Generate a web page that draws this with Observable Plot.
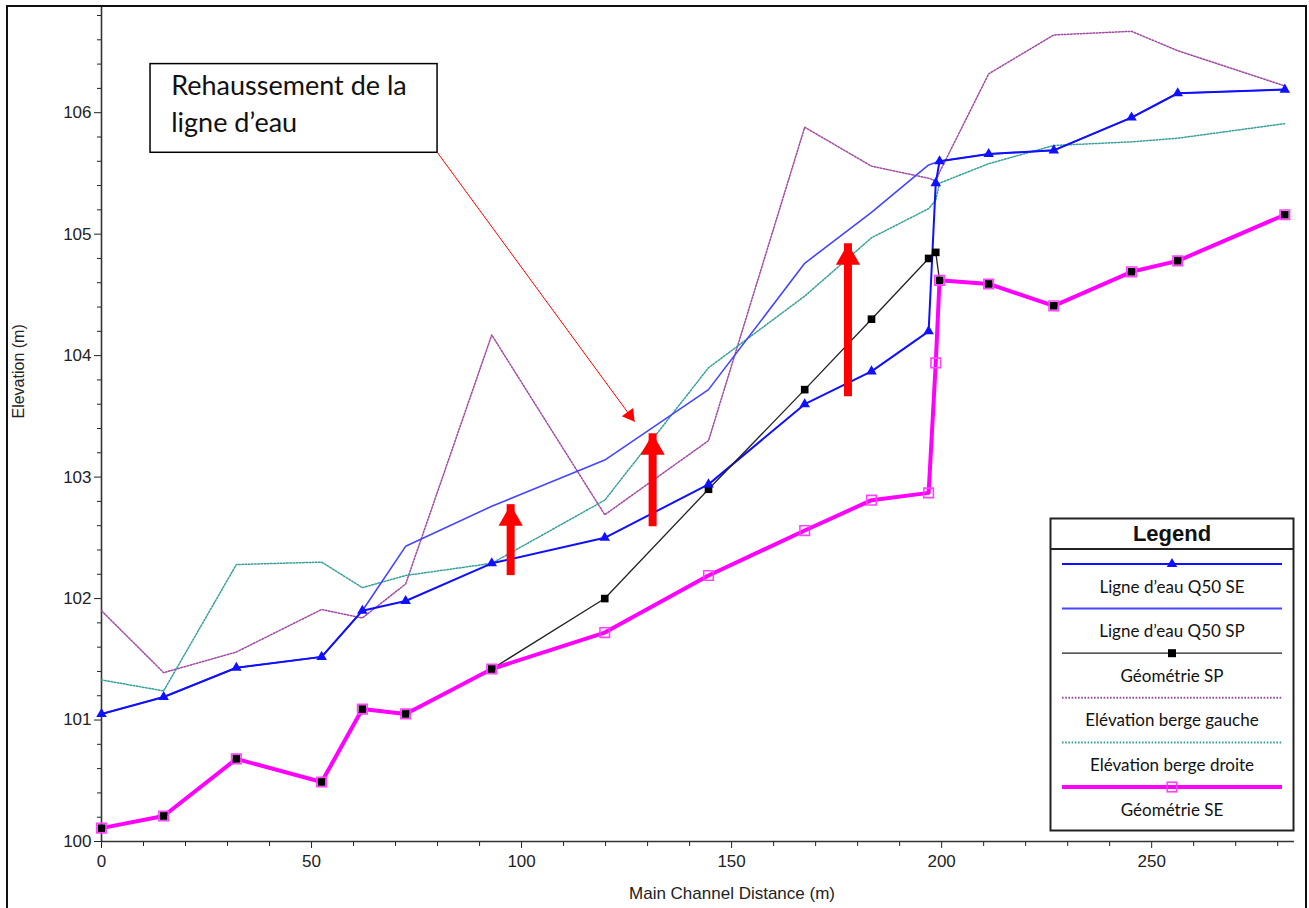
<!DOCTYPE html>
<html><head><meta charset="utf-8">
<script src="https://cdn.jsdelivr.net/npm/d3@7"></script>
<script src="https://cdn.jsdelivr.net/npm/@observablehq/plot@0.6"></script>
<style>
body{margin:0;background:#fff;}
#wrap{position:relative;width:1309px;height:908px;overflow:hidden;background:#fff;}
#frame{position:absolute;left:6px;top:5px;width:1301px;height:940px;border:2.5px solid #111;box-sizing:border-box;pointer-events:none;}
#chart{position:absolute;left:0;top:0;}
#legend{position:absolute;left:1049px;top:517px;}
</style></head>
<body><div id="wrap"><div id="chart"></div><svg id="legend" width="248" height="316"></svg><div id="frame"></div></div>
<script>
// ---- data ----
const dist   = [0, 14.8, 32.1, 52.4, 62.1, 72.4, 92.9, 119.8, 144.5, 167.4, 183.3, 196.9, 198.6, 199.5, 211.2, 226.7, 245.2, 256.2, 281.7];
const geomSE = [100.11, 100.21, 100.68, 100.49, 101.09, 101.05, 101.42, 101.72, 102.19, 102.56, 102.81, 102.87, 103.94, 104.62, 104.59, 104.41, 104.69, 104.78, 105.16];
const geomSP = [100.11, 100.21, 100.68, 100.49, 101.09, 101.05, 101.42, 102.00, 102.90, 103.72, 104.30, 104.80, 104.85, 104.62, 104.59, 104.41, 104.69, 104.78, 105.16];
const eauSE  = [101.05, 101.19, 101.43, 101.52, 101.90, 101.98, 102.29, 102.50, 102.94, 103.60, 103.87, 104.20, 105.42, 105.60, 105.66, 105.69, 105.96, 106.16, 106.19];
const eauSP  = [101.05, 101.19, 101.43, 101.52, 101.90, 102.43, 102.76, 103.14, 103.72, 104.76, 105.18, 105.57, 105.59, 105.60, 105.66, 105.69, 105.96, 106.16, 106.19];
const bergeG = [101.90, 101.39, 101.56, 101.91, 101.84, 102.12, 104.17, 102.69, 103.30, 105.88, 105.56, 105.46, 105.44, 105.51, 106.32, 106.64, 106.67, 106.51, 106.22];
const bergeD = [101.33, 101.24, 102.28, 102.30, 102.09, 102.19, 102.29, 102.81, 103.90, 104.49, 104.97, 105.21, 105.28, 105.42, 105.58, 105.73, 105.76, 105.79, 105.91];

const yMajor = [100, 101, 102, 103, 104, 105, 106];
const yMinor = [100.2,100.4,100.6,100.8,101.2,101.4,101.6,101.8,102.2,102.4,102.6,102.8,103.2,103.4,103.6,103.8,104.2,104.4,104.6,104.8,105.2,105.4,105.6,105.8,106.2,106.4,106.6,106.8];
const xMajor = [0, 50, 100, 150, 200, 250];
const xMinor = [10,20,30,40,60,70,80,90,110,120,130,140,160,170,180,190,210,220,230,240,260,270,280];

const legendLabels = ["Ligne d’eau Q50 SE", "Ligne d’eau Q50 SP", "Géométrie SP", "Elévation berge gauche", "Elévation berge droite", "Géométrie SE"];

// annotations (data coordinates)
const noteBox = [{x1: 11.67, x2: 80.0, y1: 105.67, y2: 106.40}];
const noteLines = [{x: 16.6, y: 106.148, text: "Rehaussement de la"}, {x: 16.6, y: 105.84, text: "ligne d’eau"}];
const pointer = [{x1: 80.0, y1: 105.67, x2: 126.9, y2: 103.456}];
const riseArrows = [{x: 97.4, y1: 102.337, y2: 102.773}, {x: 131.2, y1: 102.74, y2: 103.357}, {x: 177.7, y1: 103.81, y2: 104.922}];

const rows = dist.map((d, i) => ({d, geomSE: geomSE[i], geomSP: geomSP[i], eauSE: eauSE[i], eauSP: eauSP[i], bergeG: bergeG[i], bergeD: bergeD[i]}));

const C = {eauSE: "#1010ff", eauSP: "#4545ff", geomSP: "#222", bergeG: "#a248a2", bergeD: "#35a09a", geomSE: "#ff00ff"};
const DASH = "1.6,1.6";

const plot = Plot.plot({
  width: 1309, height: 908,
  marginLeft: 101, marginRight: 15, marginTop: 7, marginBottom: 67,
  x: {domain: [0, 284]},
  y: {domain: [100, 106.866]},
  style: {fontFamily: "'Liberation Sans', Arial, sans-serif", fontSize: "17px", background: "transparent", overflow: "visible"},
  marks: [
    Plot.axisY({ticks: yMajor, tickSize: 7, tickPadding: 3, tickFormat: d => d, label: null, color: "#222", fontSize: 17}),
    Plot.axisY({ticks: yMinor, tickSize: 4, tickFormat: () => "", label: null, color: "#222"}),
    Plot.axisX({ticks: xMajor, tickSize: 7, tickPadding: 6, tickFormat: d => d, label: null, color: "#222", fontSize: 17}),
    Plot.axisX({ticks: xMinor, tickSize: 5, tickFormat: () => "", label: null, color: "#222"}),
    Plot.ruleX([0], {stroke: "#333", strokeWidth: 1.6}),
    Plot.ruleY([100], {stroke: "#333", strokeWidth: 1.6}),
    Plot.text(["Elevation (m)"], {frameAnchor: "left", rotate: -90, dx: -83, dy: -6, fontSize: 16, fill: "#222"}),
    Plot.text(["Main Channel Distance (m)"], {frameAnchor: "bottom", dx: 34, dy: 57, fontSize: 17, fill: "#222"}),

    Plot.line(rows, {x: "d", y: "bergeG", stroke: C.bergeG, strokeWidth: 1.5, strokeDasharray: DASH}),
    Plot.line(rows, {x: "d", y: "bergeD", stroke: C.bergeD, strokeWidth: 1.5, strokeDasharray: DASH}),
    Plot.line(rows, {x: "d", y: "eauSP", stroke: C.eauSP, strokeWidth: 1.6}),
    Plot.line(rows, {x: "d", y: "eauSE", stroke: C.eauSE, strokeWidth: 2}),
    Plot.line(rows, {x: "d", y: "geomSP", stroke: C.geomSP, strokeWidth: 1.3}),
    Plot.line(rows, {x: "d", y: "geomSE", stroke: C.geomSE, strokeWidth: 4}),
    Plot.dot(rows, {x: "d", y: "geomSP", symbol: "square", r: 4.3, fill: "#000", stroke: "none"}),
    Plot.dot(rows, {x: "d", y: "geomSE", symbol: "square", r: 5.4, fill: "none", stroke: "#ff44ff", strokeWidth: 1.6}),
    Plot.dot(rows, {x: "d", y: "eauSE", symbol: "triangle", r: 3.9, fill: C.eauSE, stroke: "none"}),

    Plot.rect(noteBox, {x1: "x1", x2: "x2", y1: "y1", y2: "y2", fill: "#fff", stroke: "#000", strokeWidth: 1.5}),
    Plot.text(noteLines, {x: "x", y: "y", text: "text", textAnchor: "start", lineAnchor: "bottom", fontFamily: "Lato, 'Open Sans', sans-serif", fontSize: 27, fill: "#111"}),
    Plot.link(pointer, {x1: "x1", y1: "y1", x2: "x2", y2: "y2", stroke: "#f00", strokeWidth: 1}),
    Plot.dot(pointer, {x: "x2", y: "y2", symbol: "triangle", r: 5.2, fill: "#f00", stroke: "none", rotate: 143.8, dx: -4.7, dy: -6.4}),
    Plot.ruleX(riseArrows, {x: "x", y1: "y1", y2: "y2", stroke: "#f00", strokeWidth: 8, insetTop: 18}),
    Plot.dot(riseArrows, {x: "x", y: "y2", symbol: "triangle", r: 9, fill: "#f00", stroke: "none", dy: 14})
  ]
});
document.getElementById("chart").appendChild(plot);

// ---- legend ----
const lg = d3.select("#legend");
lg.append("rect").attr("x", 1.5).attr("y", 1.5).attr("width", 243).attr("height", 312).attr("fill", "#fff").attr("stroke", "#222").attr("stroke-width", 2);
lg.append("line").attr("x1", 1.5).attr("x2", 244.5).attr("y1", 32).attr("y2", 32).attr("stroke", "#222").attr("stroke-width", 2);
lg.append("text").attr("x", 123).attr("y", 16).attr("text-anchor", "middle").attr("dominant-baseline", "central")
  .attr("font-family", "'Liberation Sans', Arial, sans-serif").attr("font-weight", "bold").attr("font-size", 22).attr("fill", "#111").text("Legend");
const keys = ["eauSE", "eauSP", "geomSP", "bergeG", "bergeD", "geomSE"];
const widths = {eauSE: 2, eauSP: 2, geomSP: 1.3, bergeG: 2, bergeD: 2, geomSE: 4};
keys.forEach((k, i) => {
  const ly = 47 + i * 44.6;
  const ln = lg.append("line").attr("x1", 13).attr("x2", 233).attr("y1", ly).attr("y2", ly).attr("stroke", C[k]).attr("stroke-width", widths[k]);
  if (k === "bergeG" || k === "bergeD") ln.attr("stroke-dasharray", DASH);
  if (k === "eauSE") lg.append("path").attr("d", d3.symbol(d3.symbolTriangle, Math.PI * 3.9 * 3.9)()).attr("transform", `translate(123,${ly})`).attr("fill", C.eauSE);
  if (k === "geomSP") lg.append("rect").attr("x", 123 - 4).attr("y", ly - 4).attr("width", 8).attr("height", 8).attr("fill", "#000");
  if (k === "geomSE") lg.append("rect").attr("x", 123 - 4.8).attr("y", ly - 4.8).attr("width", 9.6).attr("height", 9.6).attr("fill", "none").attr("stroke", "#ff44ff").attr("stroke-width", 1.6);
  lg.append("text").attr("x", 123).attr("y", ly + 22).attr("text-anchor", "middle").attr("dominant-baseline", "central")
    .attr("font-family", "Lato, 'Open Sans', sans-serif").attr("font-size", 17).attr("fill", "#111").text(legendLabels[i]);
});
</script>
</body></html>
